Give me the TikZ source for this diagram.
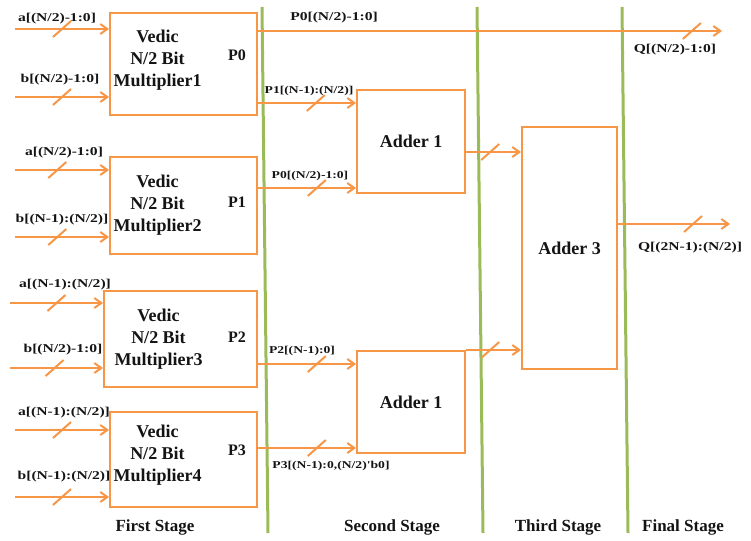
\documentclass[tikz,border=0pt]{standalone}
\usepackage{fontspec}
\setmainfont{Liberation Serif}
\newfontfamily\widefont{Liberation Serif}[FakeStretch=1.3]
\usepackage{tikz}
\usetikzlibrary{arrows.meta,calc,positioning}
\definecolor{ink}{HTML}{141414}
\definecolor{wireorange}{HTML}{F79646}
\definecolor{stagegreen}{HTML}{9BBB59}
\newcommand{\boxfont}{\fontsize{18}{22}\selectfont\bfseries}
\newcommand{\busfont}{\widefont\fontsize{12}{14}\selectfont\bfseries}
\newcommand{\tapfont}{\widefont\fontsize{10.5}{12}\selectfont\bfseries}
\newcommand{\stagefont}{\fontsize{17}{20}\selectfont\bfseries}
\tikzset{
  every node/.style={text=ink,inner sep=0pt},
  blk/.style={draw=wireorange,line width=2pt,fill=white,font=\boxfont},
  boxtxt/.style={font=\boxfont,align=center},
  ptxt/.style={font=\fontsize{16}{18}\selectfont\bfseries},
  buslabel/.style={font=\busfont},
  taplabel/.style={font=\tapfont},
  stagelabel/.style={font=\stagefont},
  wire/.style={draw=wireorange,line width=2pt,-{Straight Barb[length=7pt,width=10pt]}},
  divider/.style={draw=stagegreen,line width=3pt},
  slash/.pic={\draw[wireorange,line width=2pt,-] (-9,8) -- (9,-8);},
}

\begin{document}
\begin{tikzpicture}[x=1pt,y=-1pt]
  \useasboundingbox (0,0) rectangle (751,540);

  % ---------- stage dividers ----------
  \draw[divider] (262,7) -- (268,533);
  \draw[divider] (477,7) -- (483,533);
  \draw[divider] (622,7) -- (628,533);

  % ---------- first stage: four multipliers ----------
  \node[blk,minimum width=147,minimum height=102] (m1) at (183.5,64) {};
  \node[blk,minimum width=147,minimum height=97]  (m2) at (183.5,205.5) {};
  \node[blk,minimum width=153,minimum height=96]  (m3) at (180.5,339) {};
  \node[blk,minimum width=147,minimum height=95]  (m4) at (183.5,459.5) {};
  \foreach \m/\k/\p/\dx/\dy/\py in {m1/1/0/-26/4/9,m2/2/1/-26/0/3.5,
                                    m3/3/2/-22/0/2,m4/4/3/-26/4/9.5} {
    \node[boxtxt] (\m txt) at ([xshift=\dx,yshift=\dy]\m.center) {Vedic\\N/2 Bit\\Multiplier\k};
    \node[ptxt] (\m out) at ([xshift=-21,yshift=\py]\m.east) {P\p};
  }

  % inputs
  \coordinate (ia1) at (15,29);  \coordinate (ib1) at (15,97);
  \coordinate (ia2) at (15,170); \coordinate (ib2) at (15,237);
  \coordinate (ia3) at (10,303); \coordinate (ib3) at (10,368);
  \coordinate (ia4) at (15,430); \coordinate (ib4) at (15,497);
  \draw[wire] (ia1) -- pic[pos=0.5]{slash} (ia1 -| m1.west);
  \draw[wire] (ib1) -- pic[pos=0.5]{slash} (ib1 -| m1.west);
  \draw[wire] (ia2) -- pic[pos=0.45]{slash} (ia2 -| m2.west);
  \draw[wire] (ib2) -- pic[pos=0.45]{slash} (ib2 -| m2.west);
  \draw[wire] (ia3) -- pic[pos=0.5]{slash} (ia3 -| m3.west);
  \draw[wire] (ib3) -- pic[pos=0.48]{slash} (ib3 -| m3.west);
  \draw[wire] (ia4) -- pic[pos=0.5]{slash} (ia4 -| m4.west);
  \draw[wire] (ib4) -- pic[pos=0.5]{slash} (ib4 -| m4.west);
  \node[buslabel] (la1) at (57,19)  {a[(N/2)-1:0]};
  \node[buslabel] (lb1) at (60,80)  {b[(N/2)-1:0]};
  \node[buslabel] (la2) at (64,153) {a[(N/2)-1:0]};
  \node[buslabel] (lb2) at (62,220) {b[(N-1):(N/2)]};
  \node[buslabel] (la3) at (65,285) {a[(N-1):(N/2)]};
  \node[buslabel] (lb3) at (63,350) {b[(N/2)-1:0]};
  \node[buslabel] (la4) at (64,413) {a[(N-1):(N/2)]};
  \node[buslabel] (lb4) at (64,477) {b[(N-1):(N/2)]};

  % ---------- second and third stage: adders ----------
  \node[blk,minimum width=108,minimum height=103] (add1) at (411,141.5) {Adder 1};
  \node[blk,minimum width=108,minimum height=102] (add2) at (411,402) {Adder 1};
  \node[blk,minimum width=95,minimum height=242]  (add3) at (569.5,248) {Adder 3};

  \draw[wire] (m1.east |- 0,103) -- pic[pos=0.59]{slash} (add1.west |- 0,103);
  \draw[wire] (m2.east |- 0,188) -- pic[pos=0.6]{slash} (add1.west |- 0,188);
  \draw[wire] (m3.east |- 0,364) -- pic[pos=0.6]{slash} (add2.west |- 0,364);
  \draw[wire] (m4.east |- 0,448) -- pic[pos=0.6]{slash} (add2.west |- 0,448);
  \node[taplabel] (lp1) at (309,91)  {P1[(N-1):(N/2)]};
  \node[taplabel] (lp0) at (310,176) {P0[(N/2)-1:0]};
  \node[taplabel] (lp2) at (302,351) {P2[(N-1):0]};
  \node[taplabel] (lp3) at (331,466) {P3[(N-1):0,(N/2)'b0]};

  \draw[wire] (add1.east |- 0,152) -- pic[pos=0.44]{slash} (add3.west |- 0,152);
  \draw[wire] (add2.north east) -- pic[pos=0.44]{slash} (add3.west |- add2.north);

  % ---------- final stage: outputs ----------
  \coordinate (q0) at (722,31);
  \coordinate (q1) at (730,224);
  \draw[wire] (m1.east |- q0) -- pic[pos=0.935]{slash} (q0);
  \draw[wire] (add3.east |- q1) -- pic[pos=0.67]{slash} (q1);
  \node[buslabel] (lq0top) at (334,18) {P0[(N/2)-1:0]};
  \node[buslabel] (lq0) at (675,50)  {Q[(N/2)-1:0]};
  \node[buslabel] (lq1) at (690,248) {Q[(2N-1):(N/2)]};

  % stage names
  \node[stagelabel] (s1) at (155,527) {First Stage};
  \node[stagelabel] (s2) at (392,527) {Second Stage};
  \node[stagelabel] (s3) at (558,527) {Third Stage};
  \node[stagelabel] (s4) at (683,527) {Final Stage};
\end{tikzpicture}
\end{document}
